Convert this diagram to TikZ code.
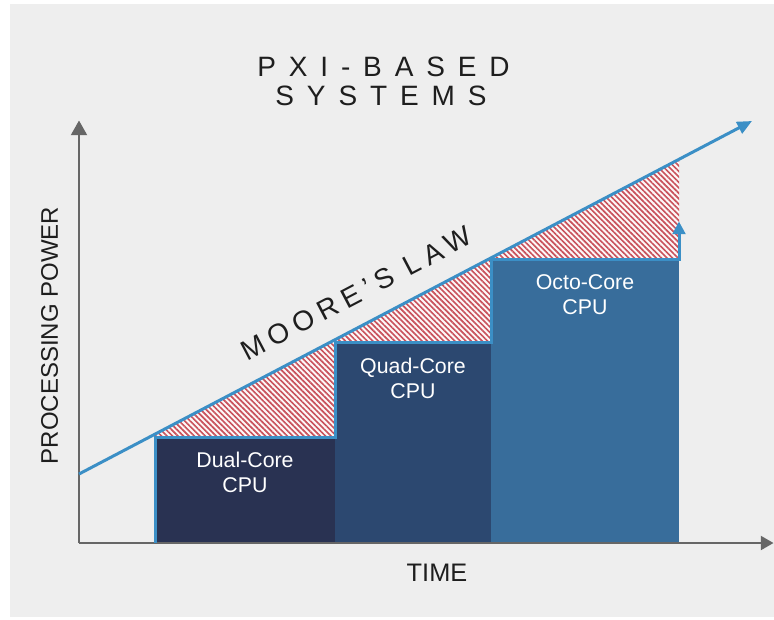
\documentclass[tikz,border=0pt]{standalone}
\usepackage{fontspec}
\setmainfont{Liberation Sans}
\newfontfamily\titlefont[LetterSpace=46]{Liberation Sans}
\newfontfamily\moorefont[LetterSpace=23]{Liberation Sans}
\usetikzlibrary{arrows.meta,patterns.meta}
\definecolor{bgc}{HTML}{EEEEEE}
\definecolor{dualc}{HTML}{293252}
\definecolor{quadc}{HTML}{2C4870}
\definecolor{octoc}{HTML}{386D9B}
\definecolor{lawblue}{HTML}{3B8FC6}
\definecolor{hatchred}{HTML}{C9525C}
\definecolor{axisgray}{HTML}{666666}
\definecolor{ink}{HTML}{1E1E1E}
\tikzset{
  block/.style={rectangle, draw=none, inner sep=0pt, outer sep=0pt, anchor=south west},
  hatch/.style={preaction={fill=white!96!hatchred}, pattern={Lines[angle=-45,distance=2.9pt,line width=1.25pt]}, pattern color=hatchred},
  axis/.style={draw=axisgray, line width=1.5pt},
  outline/.style={draw=lawblue, line width=2.25pt, line join=miter},
  celltext/.style={text=white, align=center, inner sep=0pt, font=\fontsize{16}{18.75}\selectfont},
  inktext/.style={text=ink, inner sep=0pt}
}
\begin{document}
\begin{tikzpicture}[x=0.75pt,y=-0.75pt]
\useasboundingbox (0,0) rectangle (774,619);
\fill[white] (0,0) rectangle (774,619);
\fill[bgc] (10,4) rectangle (774,617);

% blocks
\node[block, fill=dualc, minimum width=135pt, minimum height=79.5pt] (dual) at (155,543) {};
\node[block, fill=quadc, minimum width=117pt, minimum height=150.75pt] (quad) at (335,543) {};
\node[block, fill=octoc, minimum width=141pt, minimum height=213pt] (octo) at (491,543) {};

% hatched gaps
\path[hatch] (155,437) -- (155,434.1) -- (335,339.7) -- (335,437) -- cycle;
\path[hatch] (335,342) -- (335,339.7) -- (491,257.9) -- (491,342) -- cycle;
\path[hatch] (491,259) -- (491,257.9) -- (679,159.3) -- (679,259) -- cycle;

% axes
\coordinate (O) at (79,543);
\coordinate (ytip) at (79,120.5);
\coordinate (xtip) at (773.5,543);
\draw[axis, -{Triangle[length=11pt,width=12pt]}] (O) -- (ytip);
\draw[axis, -{Triangle[length=9.5pt,width=10.5pt]}] (O) -- (xtip);

% step outline
\coordinate (s0) at (155,543);
\coordinate (s7) at (679,221.5);
\draw[outline, -{Triangle[length=9.5pt,width=9.5pt]}] (s0) -- (155,437) -- (335,437) -- (335,342) -- (491,342) -- (491,259) -- (679,259) -- (s7);

% Moore's law line
\coordinate (m0) at (79,474);
\coordinate (m1) at (752,121);
\draw[outline, -{Triangle[length=11pt,width=9.5pt]}] (m0) -- (m1);

% texts
\node[inktext, anchor=base, font=\fontsize{21}{21}\selectfont] (t1) at (383.5,76) {\titlefont PXI-BASED\hspace{-0.46em}};
\node[inktext, anchor=base, font=\fontsize{21}{21}\selectfont] (t2) at (381,105) {\titlefont SYSTEMS\hspace{-0.46em}};
\node[inktext, anchor=base, rotate=27.68, font=\fontsize{21}{21}\selectfont] (law) at (360.5,302) {\moorefont MOORE’S LAW\hspace{-0.23em}};
\node[inktext, rotate=90, font=\fontsize{18}{18}\selectfont] (ylab) at (49.5,335.5) {PROCESSING POWER};
\node[inktext, font=\fontsize{19}{19}\selectfont] (xlab) at (437,572.5) {TIME};

\node[celltext] (duallab) at (245,472.5) {Dual-Core\\CPU};
\node[celltext] (quadlab) at (413,378) {Quad-Core\\CPU};
\node[celltext] (octolab) at (585,295) {Octo-Core\\CPU};
\end{tikzpicture}
\end{document}
